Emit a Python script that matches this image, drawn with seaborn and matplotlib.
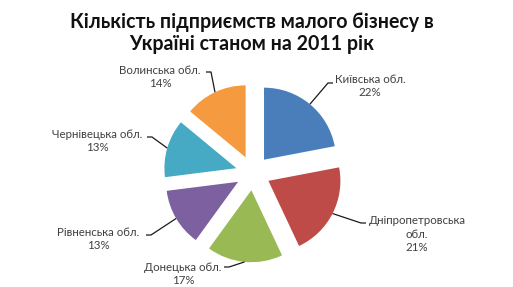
import numpy as np
import matplotlib
matplotlib.use("Agg")
import matplotlib.pyplot as plt
import seaborn as sns

# ---- data ----
regions = ["Київська обл.", "Дніпропетровська обл.", "Донецька обл.",
           "Рівненська обл.", "Чернівецька обл.", "Волинська обл."]
label_texts = ["Київська обл.\n22%", "Дніпропетровська\nобл.\n21%", "Донецька обл.\n17%",
               "Рівненська обл.\n13%", "Чернівецька обл.\n13%", "Волинська обл.\n14%"]
shares = [22, 21, 17, 13, 13, 14]
title = "Кількість підприємств малого бізнесу в\nУкраїні станом на 2011 рік"

# ---- layout (pixels in the 513x287 canvas) ----
W, H = 513, 287
CX, CY, R = 253, 173, 72
EXPLODE = 0.24
# label text centres and leader attach points (px)
label_pos = [(370, 86), (417, 234), (183, 274), (98, 239), (97, 141), (160, 77)]
attach = [(333, 83), (366, 223), (224, 267), (146, 235), (147, 137), (206, 72)]
attach_side = [-1, -1, 1, 1, 1, 1]  # -1: line comes from the left of the label

sns.set_theme(style="white")
plt.rcParams['font.family'] = ['Lato', 'DejaVu Sans']

colors = ["#4A7EBB", "#BE4B48", "#98B954", "#7D60A0", "#46AAC5", "#F59A3E"]

fig = plt.figure(figsize=(W / 100, H / 100), dpi=100)
ax = fig.add_axes([0, 0, 1, 1])

wedges, _ = ax.pie(shares, colors=colors, startangle=90, counterclock=False,
                   explode=[EXPLODE] * len(shares), radius=1.0, center=(0, 0),
                   frame=True, wedgeprops=dict(linewidth=0))
ax.set_xlim(-CX / R, (W - CX) / R)
ax.set_ylim(-(H - CY) / R, CY / R)
ax.set_aspect("auto")
ax.axis("off")

def px2d(px, py):
    return (px - CX) / R, (CY - py) / R

for i, w in enumerate(wedges):
    mid = np.deg2rad((w.theta1 + w.theta2) / 2)
    r_edge = 1.0 + EXPLODE
    ex, ey = r_edge * np.cos(mid), r_edge * np.sin(mid)
    ax_, ay_ = px2d(*attach[i])
    hx = ax_ + attach_side[i] * (5 / R)
    ax.plot([ex, hx, ax_], [ey, ay_, ay_], color="#1a1a1a", lw=0.9,
            solid_capstyle="butt")
    tx, ty = px2d(*label_pos[i])
    ax.text(tx, ty, label_texts[i], ha="center", va="center", fontsize=8.3,
            color="#404040", linespacing=1.25)

fig.text(252 / W, 1 - 33 / H, title, ha="center", va="center", fontsize=14.1,
         fontweight="bold", color="#111111", linespacing=1.17)

fig.savefig("out.png", dpi=100, facecolor="white")
